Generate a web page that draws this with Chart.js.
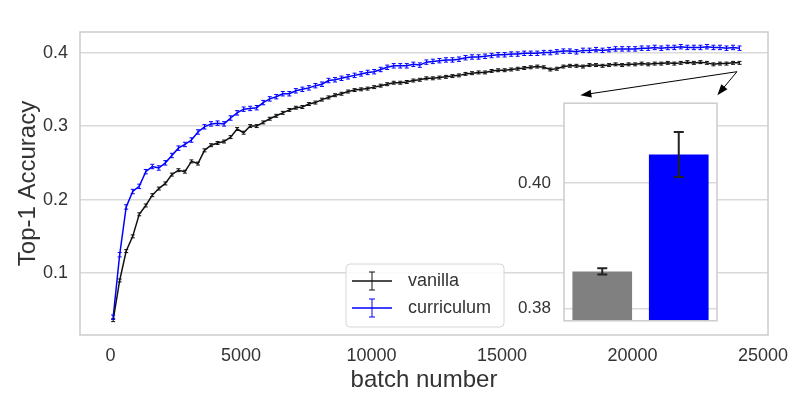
<!DOCTYPE html>
<html>
<head>
<meta charset="utf-8">
<script src="https://cdn.jsdelivr.net/npm/chart.js@4.4.1/dist/chart.umd.min.js"></script>
<style>
  html, body { margin: 0; padding: 0; background: #fff; }
  #wrap { position: relative; width: 807px; height: 410px; }
  #inset { position: absolute; left: 500px; top: 80px; }
</style>
</head>
<body>
<div id="wrap">
  <canvas id="main" width="807" height="410"></canvas>
  <canvas id="inset" width="222" height="264"></canvas>
</div>
<script>
// batch numbers (x)
const batches = [
  100, 350, 600, 850, 1100, 1350, 1600, 1850, 2100, 2350,
  2600, 2850, 3100, 3350, 3600, 3850, 4100, 4350, 4600, 4850,
  5100, 5350, 5600, 5850, 6100, 6350, 6600, 6850, 7100, 7350,
  7600, 7850, 8100, 8350, 8600, 8850, 9100, 9350, 9600, 9850,
  10100, 10350, 10600, 10850, 11100, 11350, 11600, 11850, 12100, 12350,
  12600, 12850, 13100, 13350, 13600, 13850, 14100, 14350, 14600, 14850,
  15100, 15350, 15600, 15850, 16100, 16350, 16600, 16850, 17100, 17350,
  17600, 17850, 18100, 18350, 18600, 18850, 19100, 19350, 19600, 19850,
  20100, 20350, 20600, 20850, 21100, 21350, 21600, 21850, 22100, 22350,
  22600, 22850, 23100, 23350, 23600, 23850, 24100
];

const vanilla = [
  0.036, 0.090, 0.130, 0.150, 0.180, 0.192, 0.206, 0.215, 0.222, 0.234,
  0.240, 0.238, 0.252, 0.249, 0.267, 0.274, 0.277, 0.279, 0.285, 0.296,
  0.291, 0.300, 0.300, 0.305, 0.310, 0.314, 0.318, 0.322, 0.325, 0.326,
  0.330, 0.332, 0.336, 0.339, 0.342, 0.344, 0.347, 0.349, 0.350, 0.351,
  0.353, 0.355, 0.357, 0.359, 0.359, 0.360, 0.362, 0.363, 0.365, 0.365,
  0.366, 0.367, 0.368, 0.369, 0.371, 0.372, 0.373, 0.373, 0.375, 0.376,
  0.376, 0.377, 0.378, 0.379, 0.380, 0.381, 0.380, 0.377, 0.378, 0.381,
  0.382, 0.382, 0.381, 0.383, 0.383, 0.382, 0.383, 0.384, 0.383, 0.384,
  0.384, 0.385, 0.384, 0.385, 0.385, 0.386, 0.385, 0.386, 0.387, 0.386,
  0.387, 0.386, 0.384, 0.385, 0.385, 0.386, 0.386
];

const curriculum = [
  0.040, 0.125, 0.190, 0.211, 0.218, 0.238, 0.245, 0.243, 0.250, 0.260,
  0.270, 0.275, 0.281, 0.292, 0.299, 0.303, 0.304, 0.303, 0.311, 0.318,
  0.323, 0.324, 0.325, 0.332, 0.337, 0.340, 0.344, 0.344, 0.348, 0.350,
  0.352, 0.355, 0.357, 0.362, 0.363, 0.365, 0.367, 0.369, 0.371, 0.373,
  0.374, 0.377, 0.380, 0.382, 0.382, 0.382, 0.384, 0.383, 0.387, 0.388,
  0.389, 0.390, 0.390, 0.391, 0.393, 0.394, 0.394, 0.395, 0.396, 0.397,
  0.397, 0.398, 0.398, 0.399, 0.399, 0.399, 0.400, 0.400, 0.401, 0.402,
  0.402, 0.401, 0.403, 0.403, 0.404, 0.403, 0.404, 0.405, 0.405, 0.405,
  0.405, 0.406, 0.406, 0.407, 0.406, 0.407, 0.407, 0.408, 0.407, 0.407,
  0.407, 0.408, 0.407, 0.407, 0.406, 0.407, 0.406
];

// half-width of the error bars on the curves
const errVanilla = 0.002;
const errCurriculum = 0.003;

const xTicks = [0, 5000, 10000, 15000, 20000, 25000];
const yTicks = [0.1, 0.2, 0.3, 0.4];

// inset: final accuracy
const barLabels = ['vanilla', 'curriculum'];
const barValues = [0.3859, 0.4046];
const barErrors = [0.0005, 0.0036];
const insetTicks = [0.38, 0.40];

// arrow from end of curves to the inset (data coords)
const arrowFrom = [24000, 0.374];
const arrowTo = [[18000, 0.342], [23250, 0.342]];

const TEXT = '#333333';
const GRID = '#d9d9d9';
const FONT = "'Liberation Sans', Arial, sans-serif";

Chart.defaults.font.family = FONT;
Chart.defaults.color = TEXT;

// error bars for the line series
const lineErrorBars = {
  id: 'lineErrorBars',
  afterDatasetsDraw(chart) {
    const { ctx, scales: { x, y } } = chart;
    chart.data.datasets.forEach((ds) => {
      ctx.save();
      ctx.strokeStyle = ds.borderColor;
      ctx.lineWidth = 1;
      ds.data.forEach((p) => {
        const px = x.getPixelForValue(p.x);
        const t = y.getPixelForValue(p.y + ds.err);
        const b = y.getPixelForValue(p.y - ds.err);
        ctx.beginPath();
        ctx.moveTo(px, t); ctx.lineTo(px, b);
        ctx.moveTo(px - 2, t); ctx.lineTo(px + 2, t);
        ctx.moveTo(px - 2, b); ctx.lineTo(px + 2, b);
        ctx.stroke();
      });
      ctx.restore();
    });
  }
};

// frame, arrows, legend
const decorations = {
  id: 'decorations',
  afterDraw(chart) {
    const { ctx, chartArea: a, scales: { x, y } } = chart;
    ctx.save();
    ctx.strokeStyle = '#cccccc';
    ctx.lineWidth = 1.5;
    ctx.strokeRect(a.left, a.top, a.right - a.left, a.bottom - a.top);

    // arrows
    const sx = x.getPixelForValue(arrowFrom[0]);
    const sy = y.getPixelForValue(arrowFrom[1]);
    ctx.strokeStyle = '#000';
    ctx.fillStyle = '#000';
    ctx.lineWidth = 1;
    arrowTo.forEach(([vx, vy]) => {
      const ex = x.getPixelForValue(vx);
      const ey = y.getPixelForValue(vy);
      const ang = Math.atan2(ey - sy, ex - sx);
      ctx.beginPath();
      ctx.moveTo(sx, sy);
      ctx.lineTo(ex - 6 * Math.cos(ang), ey - 6 * Math.sin(ang));
      ctx.stroke();
      ctx.beginPath();
      ctx.moveTo(ex, ey);
      ctx.lineTo(ex - 11 * Math.cos(ang) + 4 * Math.sin(ang), ey - 11 * Math.sin(ang) - 4 * Math.cos(ang));
      ctx.lineTo(ex - 11 * Math.cos(ang) - 4 * Math.sin(ang), ey - 11 * Math.sin(ang) + 4 * Math.cos(ang));
      ctx.closePath();
      ctx.fill();
    });

    // legend box
    const lx = 346, ly = 264, lw = 158, lh = 63;
    ctx.beginPath();
    ctx.roundRect(lx, ly, lw, lh, 4);
    ctx.fillStyle = 'rgba(255,255,255,0.85)';
    ctx.fill();
    ctx.strokeStyle = '#d6d6d6';
    ctx.lineWidth = 1;
    ctx.stroke();
    chart.data.datasets.forEach((ds, i) => {
      const cy = 281 + i * 27;
      ctx.strokeStyle = ds.borderColor;
      ctx.lineWidth = 1.5;
      ctx.beginPath();
      ctx.moveTo(352, cy); ctx.lineTo(392, cy);
      ctx.stroke();
      ctx.lineWidth = 1;
      ctx.beginPath();
      ctx.moveTo(372, cy - 9); ctx.lineTo(372, cy + 9);
      ctx.moveTo(369, cy - 9); ctx.lineTo(375, cy - 9);
      ctx.moveTo(369, cy + 9); ctx.lineTo(375, cy + 9);
      ctx.stroke();
      ctx.fillStyle = TEXT;
      ctx.font = '18px ' + FONT;
      ctx.textBaseline = 'middle';
      ctx.textAlign = 'left';
      ctx.fillText(ds.label, 408, cy);
    });
    ctx.restore();
  }
};

new Chart(document.getElementById('main').getContext('2d'), {
  type: 'line',
  data: {
    datasets: [
      {
        label: 'vanilla',
        data: batches.map((b, i) => ({ x: b, y: vanilla[i] })),
        err: errVanilla,
        borderColor: '#111111',
        borderWidth: 1.5,
        pointRadius: 0,
        tension: 0,
        fill: false
      },
      {
        label: 'curriculum',
        data: batches.map((b, i) => ({ x: b, y: curriculum[i] })),
        err: errCurriculum,
        borderColor: '#0000ff',
        borderWidth: 1.5,
        pointRadius: 0,
        tension: 0,
        fill: false
      }
    ]
  },
  options: {
    responsive: false,
    animation: false,
    layout: { padding: { left: 0, top: 32, right: 39, bottom: 0 } },
    plugins: { legend: { display: false }, tooltip: { enabled: false } },
    scales: {
      x: {
        type: 'linear',
        min: -1170,
        max: 25190,
        afterBuildTicks: (s) => { s.ticks = xTicks.map((v) => ({ value: v })); },
        afterFit: (s) => { s.height = 75; },
        grid: { display: false, drawTicks: false },
        border: { display: false },
        ticks: { padding: 10, font: { size: 18 }, color: TEXT, callback: (v) => String(v) },
        title: { display: true, text: 'batch number', font: { size: 24 }, color: TEXT, padding: { top: 0, bottom: 15 } }
      },
      y: {
        min: 0.0158,
        max: 0.428,
        afterBuildTicks: (s) => { s.ticks = yTicks.map((v) => ({ value: v })); },
        afterFit: (s) => { s.width = 80; },
        grid: { color: GRID, lineWidth: 1.5, drawTicks: false },
        border: { display: false },
        ticks: { padding: 12, font: { size: 18 }, color: TEXT, callback: (v) => v.toFixed(1) },
        title: { display: true, text: 'Top-1 Accuracy', font: { size: 24 }, color: TEXT, padding: { top: 14, bottom: 0 } }
      }
    }
  },
  plugins: [lineErrorBars, decorations]
});

// inset bar chart
const insetFrame = {
  id: 'insetFrame',
  beforeDraw(chart) {
    const { ctx, chartArea: a } = chart;
    ctx.save();
    ctx.fillStyle = '#fff';
    ctx.fillRect(a.left, a.top, a.right - a.left, a.bottom - a.top);
    ctx.restore();
  },
  afterDraw(chart) {
    const { ctx, chartArea: a, scales: { x, y } } = chart;
    ctx.save();
    ctx.strokeStyle = '#222';
    ctx.lineWidth = 2;
    barValues.forEach((v, i) => {
      const px = x.getPixelForValue(i);
      const t = y.getPixelForValue(v + barErrors[i]);
      const b = y.getPixelForValue(v - barErrors[i]);
      ctx.beginPath();
      ctx.moveTo(px, t); ctx.lineTo(px, b);
      ctx.moveTo(px - 5, t); ctx.lineTo(px + 5, t);
      ctx.moveTo(px - 5, b); ctx.lineTo(px + 5, b);
      ctx.stroke();
    });
    ctx.strokeStyle = '#cccccc';
    ctx.lineWidth = 1.5;
    ctx.strokeRect(a.left, a.top, a.right - a.left, a.bottom - a.top);
    ctx.restore();
  }
};

new Chart(document.getElementById('inset').getContext('2d'), {
  type: 'bar',
  data: {
    labels: barLabels,
    datasets: [{
      data: barValues,
      base: 0.378,
      backgroundColor: ['#808080', '#0000ff'],
      borderWidth: 0,
      barPercentage: 0.78,
      categoryPercentage: 1
    }]
  },
  options: {
    responsive: false,
    animation: false,
    layout: { padding: { left: 0, top: 7, right: 5, bottom: 6 } },
    plugins: { legend: { display: false }, tooltip: { enabled: false } },
    scales: {
      x: { display: false },
      y: {
        min: 0.378,
        max: 0.4128,
        afterBuildTicks: (s) => { s.ticks = insetTicks.map((v) => ({ value: v })); },
        afterFit: (s) => { s.width = 64; },
        grid: { color: GRID, lineWidth: 1.5, drawTicks: false },
        border: { display: false },
        ticks: { padding: 13, font: { size: 17 }, color: TEXT, callback: (v) => v.toFixed(2) }
      }
    }
  },
  plugins: [insetFrame]
});
</script>
</body>
</html>
